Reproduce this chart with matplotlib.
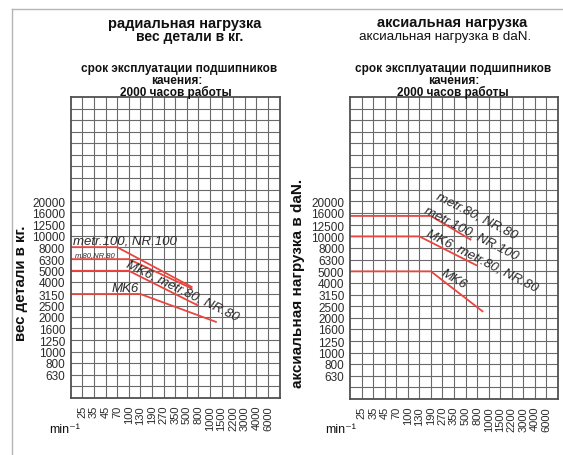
import numpy as np
import matplotlib
matplotlib.use('Agg')
import matplotlib.pyplot as plt
from matplotlib.lines import Line2D

plt.rcParams['font.family'] = ['Liberation Sans', 'DejaVu Sans']

# ---------------- data ----------------
speed_labels = ['25', '35', '45', '70', '100', '130', '190', '270', '350', '500',
                '800', '1000', '1500', '2200', '3000', '4000', '6000']
speed_values = [float(s) for s in speed_labels]
load_ticks = [630, 800, 1000, 1250, 1600, 2000, 2500, 3150, 4000, 5000,
              6300, 8000, 10000, 12500, 16000, 20000]

radial_names = ['metr.100, NR.100', 'm.80,NR.80', 'MK6, metr.80, NR.80', 'MK6']
radial_load = [8000, 6300, 5000, 3150]
radial_knee_rpm = [70, 100, 100, 130]
radial_end_rpm = [630, 630, 800, 1270]
radial_end_load = [3600, 3500, 2500, 1800]

axial_names = ['metr.80, NR.80', 'metr.100, NR.100', 'MK6, metr.80, NR.80', 'MK6']
axial_load = [15000, 10000, 5000]
axial_knee_rpm = [190, 130, 190]
axial_end_rpm = [630, 800, 900]
axial_end_load = [9300, 5600, 2240]

RED = '#e8463f'
GRID = '#6a6a6a'
TXT = '#2a2a2a'

W, H = 563, 456
fig = plt.figure(figsize=(W / 100, H / 100), dpi=100)


def pos(rpm):
    return np.interp(np.log(rpm), np.log(speed_values), np.arange(1, len(speed_values) + 1))


def r10(r):
    return 1000 * 10 ** ((r - 4) / 10)


def setup(ax):
    ax.set_xlim(0, 18)
    ax.set_yscale('log')
    ax.set_ylim(r10(0), r10(26))
    ax.set_xticks(np.arange(1, 18))
    ax.set_xticklabels(speed_labels, rotation=90, fontsize=8, color=TXT)
    ax.set_yticks(load_ticks)
    ax.set_yticklabels([str(v) for v in load_ticks], fontsize=8.5, color=TXT)
    ax.yaxis.set_minor_locator(matplotlib.ticker.FixedLocator([r10(r) for r in [1] + list(range(18, 26))]))
    ax.yaxis.set_minor_formatter(matplotlib.ticker.NullFormatter())
    ax.tick_params(axis='both', which='both', length=0)
    ax.tick_params(axis='x', pad=5)
    ax.tick_params(axis='y', pad=4)
    ax.grid(True, which='both', color=GRID, linewidth=0.8)
    ax.set_axisbelow(True)
    for s in ax.spines.values():
        s.set_color('#505050')
        s.set_linewidth(1.3)


axL = fig.add_axes([70.7 / W, 57 / H, 208.8 / W, 301 / H])
axR = fig.add_axes([350 / W, 56 / H, 208 / W, 302 / H])
setup(axL)
setup(axR)

for ld, kr, er, el in zip(radial_load, radial_knee_rpm, radial_end_rpm, radial_end_load):
    axL.plot([0, pos(kr), pos(er)], [ld, ld, el], color=RED, lw=1.3, solid_capstyle='butt')
for ld, kr, er, el in zip(axial_load, axial_knee_rpm, axial_end_rpm, axial_end_load):
    axR.plot([0, pos(kr), pos(er)], [ld, ld, el], color=RED, lw=1.3, solid_capstyle='butt')

lab = dict(color=TXT, style='italic', rotation_mode='anchor')
axL.text(0.2, r10(13.6), radial_names[0], ha='left', va='center', fontsize=9.5, **lab)
axL.text(0.35, r10(12.35), radial_names[1], ha='left', va='center', fontsize=5.5, **lab)
axL.text(9.6, r10(9.35), radial_names[2], ha='center', va='center', fontsize=9.5, rotation=-26, **lab)
axL.text(4.7, r10(9.5), radial_names[3], ha='center', va='center', fontsize=9.5, **lab)

axR.text(10.96, r10(15.86), axial_names[0], ha='center', va='center', fontsize=9.5, rotation=-27, **lab)
axR.text(10.47, r10(14.3), axial_names[1], ha='center', va='center', fontsize=9.5, rotation=-27, **lab)
axR.text(11.4, r10(12.0), axial_names[2], ha='center', va='center', fontsize=9.5, rotation=-27, **lab)
axR.text(9.0, r10(10.4), axial_names[3], ha='center', va='center', fontsize=9.5, rotation=-31, **lab)


def ft(x, y, s, **kw):
    fig.text(x / W, 1 - y / H, s, ha='center', va='center', color='#111111', **kw)


ft(185, 24, 'радиальная нагрузка', fontsize=10.5, fontweight='bold')
ft(190, 37, 'вес детали в кг.', fontsize=10, fontweight='bold')
ft(179, 69, 'срок эксплуатации подшипников', fontsize=8.5, fontweight='bold')
ft(177, 80.5, 'качения:', fontsize=8.5, fontweight='bold')
ft(176, 92, '2000 часов работы', fontsize=8.5, fontweight='bold')

ft(452, 23, 'аксиальная нагрузка', fontsize=10.5, fontweight='bold')
ft(445, 37, 'аксиальная нагрузка в daN.', fontsize=9.6)
ft(453, 69, 'срок эксплуатации подшипников', fontsize=8.5, fontweight='bold')
ft(454, 80.5, 'качения:', fontsize=8.5, fontweight='bold')
ft(453, 92, '2000 часов работы', fontsize=8.5, fontweight='bold')

ft(21, 283, 'вес детали в кг.', fontsize=10.8, fontweight='bold', rotation=90)
ft(298, 283, 'аксиальная нагрузка в daN.', fontsize=11, fontweight='bold', rotation=90)

ft(65, 430, 'min⁻¹', fontsize=9)
ft(341, 430, 'min⁻¹', fontsize=9)

# light outer frame
fig.add_artist(Line2D([12 / W, 1], [1 - 10 / H, 1 - 10 / H], color='#b5b5b5', lw=1))
fig.add_artist(Line2D([12 / W, 12 / W], [0, 1 - 10 / H], color='#b5b5b5', lw=1))

fig.savefig('out.png', dpi=100, facecolor='white')
